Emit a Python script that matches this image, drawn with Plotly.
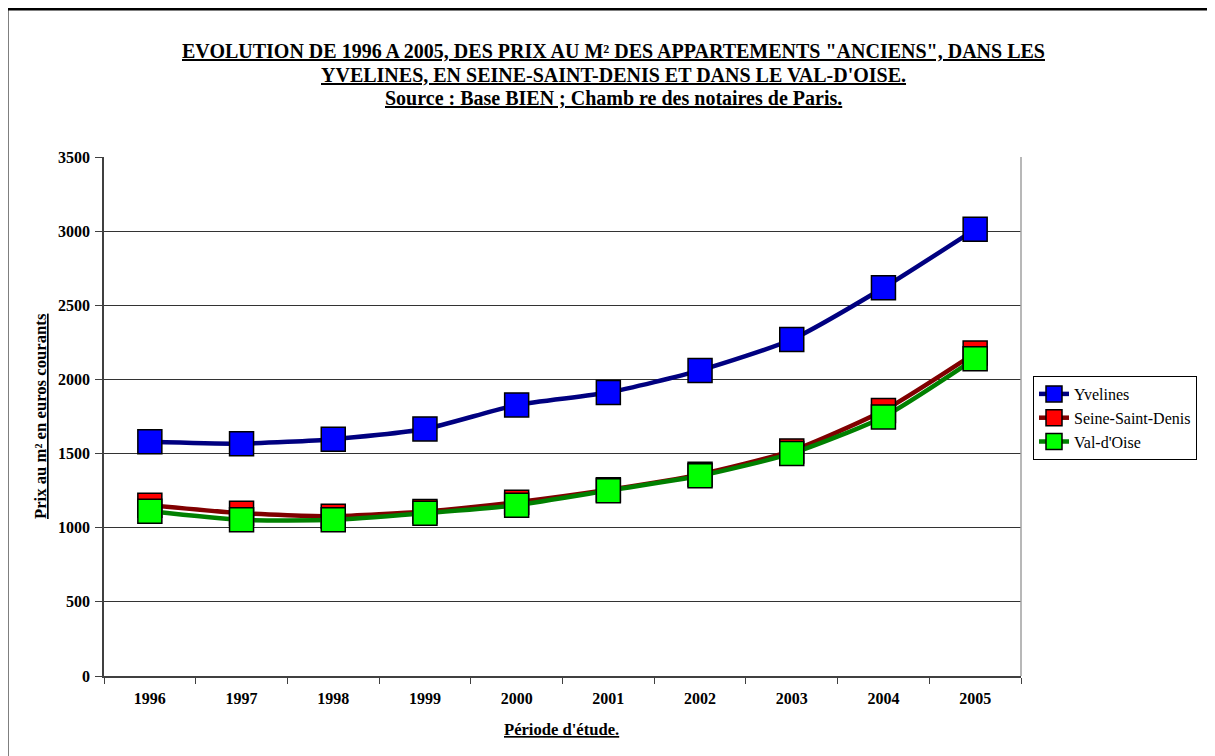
import plotly.graph_objects as go

years = ["1996", "1997", "1998", "1999", "2000", "2001", "2002", "2003", "2004", "2005"]
yvelines = [1580, 1567, 1597, 1666, 1828, 1912, 2061, 2269, 2618, 3012]
seine_saint_denis = [1152, 1098, 1078, 1110, 1172, 1256, 1360, 1518, 1790, 2178]
val_doise = [1111, 1053, 1053, 1098, 1152, 1250, 1350, 1501, 1747, 2140]

series = [
    ("Yvelines", yvelines, "#000080", "#0000FF"),
    ("Seine-Saint-Denis", seine_saint_denis, "#800000", "#FF0000"),
    ("Val-d'Oise", val_doise, "#008000", "#00FF00"),
]

FONT = "Liberation Serif"
fig = go.Figure()
for name, vals, lc, mc in series:
    fig.add_trace(go.Scatter(
        x=years, y=vals, name=name, mode="lines+markers",
        line=dict(color=lc, width=4.5, shape="spline", smoothing=0.6),
        marker=dict(symbol="square", size=24, color=mc, line=dict(color="black", width=1.5)),
    ))

# page offset (browser body margin)
OX, OY = 8, 8
W, H = 1215, 756
# plot area in screen coordinates
SX0, SX1, SY0, SY1 = 104, 1021, 157, 676
L = SX0 - OX
T = SY0 - OY
pw = SX1 - SX0
ph = SY1 - SY0
R = W - L - pw
B = H - T - ph


def px(sx):
    return (sx - SX0) / pw


def py(sy):
    return (SY1 - sy) / ph


title_lines = [
    "EVOLUTION DE 1996 A 2005, DES PRIX AU M² DES APPARTEMENTS \"ANCIENS\", DANS LES",
    "YVELINES, EN SEINE-SAINT-DENIS ET DANS LE VAL-D'OISE.",
    "Source : Base BIEN ; Chamb re des notaires de Paris.",
]
title_y = [51, 74.5, 98]

annotations = []
for txt, ty in zip(title_lines, title_y):
    annotations.append(dict(
        xref="paper", yref="paper", x=px(613), y=py(ty), xanchor="center", yanchor="middle",
        showarrow=False, text="<b><u>" + txt + "</u></b>",
        font=dict(family=FONT, size=20, color="black")))
annotations.append(dict(
    xref="paper", yref="paper", x=px(561.5), y=py(729), xanchor="center", yanchor="middle",
    showarrow=False, text="<b><u>Période d'étude.</u></b>",
    font=dict(family=FONT, size=16.6, color="black")))
annotations.append(dict(
    xref="paper", yref="paper", x=px(40), y=py(416), xanchor="center", yanchor="middle",
    showarrow=False, textangle=-90, text="<b><u>Prix au m² en euros courants</u></b>",
    font=dict(family=FONT, size=16.7, color="black")))

fig.update_layout(
    width=W, height=H,
    margin=dict(l=L, r=R, t=T, b=B),
    paper_bgcolor="white", plot_bgcolor="white",
    font=dict(family=FONT, color="black"),
    showlegend=True,
    legend=dict(x=px(1033), y=py(376), xanchor="left", yanchor="top",
                bordercolor="black", borderwidth=1, bgcolor="white",
                font=dict(family=FONT, size=16, color="black"),
                itemwidth=30, tracegroupgap=0),
    xaxis=dict(
        type="category", range=[-0.5, len(years) - 0.5],
        showgrid=False, showline=True, linecolor="#404040", linewidth=1.5,
        ticks="outside", ticklen=6, tickcolor="#404040", tickson="boundaries",
        tickfont=dict(family=FONT, size=16, color="black", weight="bold"),
        ticklabelstandoff=7, zeroline=False,
    ),
    yaxis=dict(
        range=[0, 3500], dtick=500, showgrid=True, gridcolor="#333333", gridwidth=1,
        showline=True, linecolor="#404040", linewidth=1.5,
        ticks="outside", ticklen=7, tickcolor="#404040",
        tickfont=dict(family=FONT, size=16, color="black", weight="bold"),
        ticklabelstandoff=2, zeroline=False,
    ),
    shapes=[
        dict(type="line", xref="paper", yref="paper", x0=1, x1=1, y0=0, y1=1,
             line=dict(color="#a0a0a0", width=1.5)),
        dict(type="rect", xref="paper", yref="paper",
             x0=px(7), x1=px(1240), y0=py(790), y1=py(9),
             line=dict(color="black", width=3), fillcolor="rgba(0,0,0,0)"),
    ],
    annotations=annotations,
)

fig.write_html("out.html")
